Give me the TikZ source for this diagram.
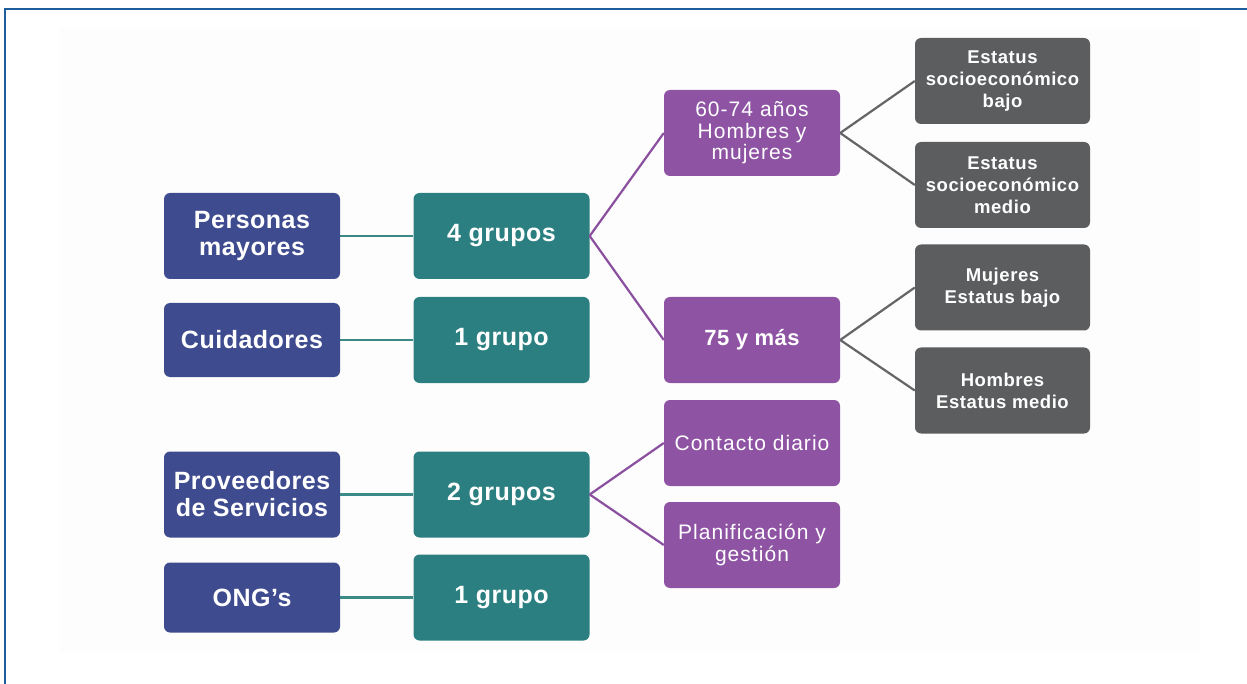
\documentclass[tikz,border=0pt]{standalone}
\usepackage{fontspec}
\setmainfont{Liberation Sans}
\newfontfamily\lsfont[LetterSpace=2]{Liberation Sans}
\newfontfamily\lsfontw[LetterSpace=5]{Liberation Sans}
\newfontfamily\lsfontg[LetterSpace=3]{Liberation Sans}
\definecolor{cblue}{HTML}{3F4B8F}
\definecolor{cteal}{HTML}{2C7F80}
\definecolor{cpurple}{HTML}{8E53A3}
\definecolor{cgray}{HTML}{5B5D5F}
\definecolor{lteal}{HTML}{3A8A88}
\definecolor{lpurple}{HTML}{8A4F9E}
\definecolor{lgray}{HTML}{646566}
\definecolor{frameblue}{HTML}{1F5C9E}
\begin{document}
\begin{tikzpicture}[x=1pt,y=-1pt,
  box/.style={rounded corners=6pt, text=white, align=center, inner sep=0pt,
    minimum width=176pt, minimum height=86pt},
  bluebox/.style={box, fill=cblue, font=\lsfont\bfseries\fontsize{25}{27}\selectfont},
  tealbox/.style={box, fill=cteal, font=\lsfont\bfseries\fontsize{25}{27}\selectfont},
  purplebox/.style={box, fill=cpurple, font=\lsfontw\fontsize{21}{21.5}\selectfont},
  purplebold/.style={box, fill=cpurple, font=\lsfont\bfseries\fontsize{22}{22}\selectfont},
  graybox/.style={box, fill=cgray, minimum width=175pt, font=\lsfontg\bfseries\fontsize{18.5}{22}\selectfont},
  tealline/.style={draw=lteal, line width=2.8pt},
  purpleline/.style={draw=lpurple, line width=2.2pt},
  grayline/.style={draw=lgray, line width=2.2pt}
]
\useasboundingbox (0,0) rectangle (1247,684);
\fill[white] (0,0) rectangle (1247,684);
\fill[black!0.8] (60,27) rectangle (1200,653);
\draw[frameblue, line width=2pt] (4.5,684) -- (4.5,9.5) -- (1247,9.5);

% level 1
\node[bluebox] (pm) at (252,236) {Personas\\mayores};
\node[bluebox, minimum height=74pt] (cu) at (252,340) {Cuidadores};
\node[bluebox] (pr) at (252,494.5) {Proveedores\\de Servicios};
\node[bluebox, minimum height=70pt] (ong) at (252,597.5) {ONG’s};

% level 2
\node[tealbox] (g4) at (501.5,236) {4 grupos};
\node[tealbox] (g1) at (501.5,340) {1 grupo};
\node[tealbox] (g2) at (501.5,494.5) {2 grupos};
\node[tealbox] (g1b) at (501.5,597.5) {1 grupo};

% level 3
\node[purplebox] (p1) at (752,133) {60-74 años\\Hombres y\\mujeres};
\node[purplebold] (p2) at (752,340) {75 y más};
\node[purplebox] (p3) at (752,443) {Contacto diario};
\node[purplebox] (p4) at (752,545) {Planificación y\\gestión};

% level 4
\node[graybox] (q1) at (1002.5,81) {Estatus\\socioeconómico\\bajo};
\node[graybox] (q2) at (1002.5,185) {Estatus\\socioeconómico\\medio};
\node[graybox] (q3) at (1002.5,287.5) {Mujeres\\Estatus bajo};
\node[graybox] (q4) at (1002.5,390.5) {Hombres\\Estatus medio};

% connectors
\draw[tealline] (pm.east) -- (g4.west);
\draw[tealline] (cu.east) -- (g1.west);
\draw[tealline] (pr.east) -- (g2.west);
\draw[tealline] (ong.east) -- (g1b.west);

\draw[purpleline] (g4.east) -- (p1.west);
\draw[purpleline] (g4.east) -- (p2.west);
\draw[purpleline] (g2.east) -- (p3.west);
\draw[purpleline] (g2.east) -- (p4.west);

\draw[grayline] (p1.east) -- (q1.west);
\draw[grayline] (p1.east) -- (q2.west);
\draw[grayline] (p2.east) -- (q3.west);
\draw[grayline] (p2.east) -- (q4.west);
\end{tikzpicture}
\end{document}
